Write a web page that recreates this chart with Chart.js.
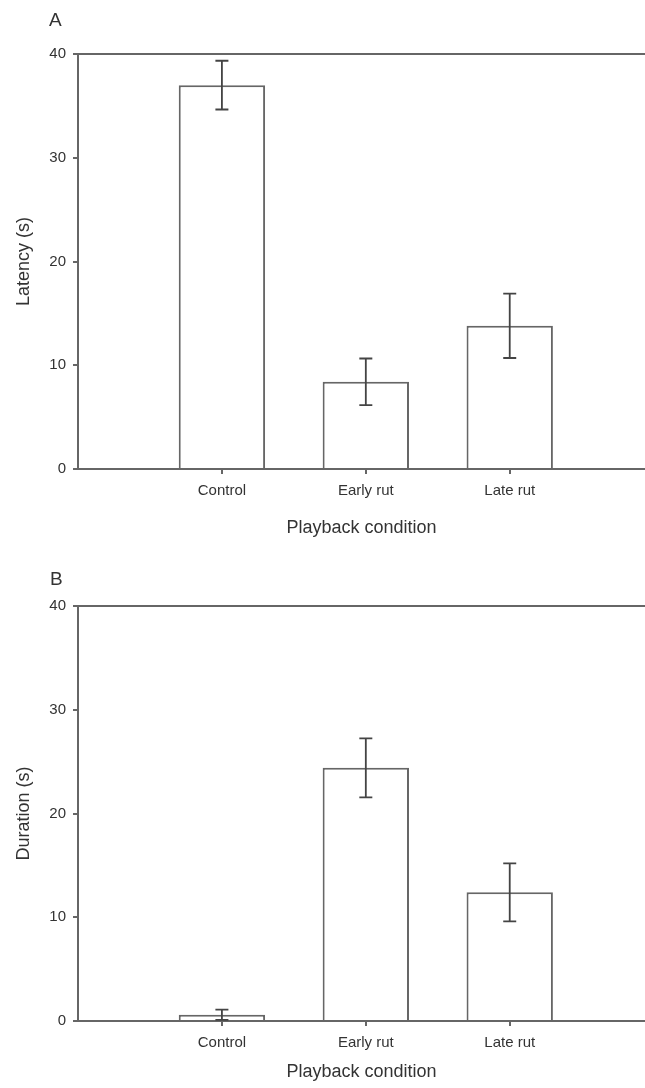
<!DOCTYPE html>
<html>
<head>
<meta charset="utf-8">
<script src="https://cdn.jsdelivr.net/npm/chart.js@4/dist/chart.umd.min.js"></script>
<style>
  body { margin: 0; background: #fff; }
  .panel { position: absolute; left: 0; width: 645px; height: 544px; }
  .letter { position: absolute; font-family: "Liberation Sans", Arial, sans-serif; font-size: 19px; color: #333; }
</style>
</head>
<body>
<div class="panel" style="top:0"><canvas id="chartA" width="645" height="544"></canvas></div>
<div class="panel" style="top:544px"><canvas id="chartB" width="645" height="544"></canvas></div>
<div class="letter" style="left:49px; top:9px">A</div>
<div class="letter" style="left:50px; top:568px">B</div>
<script>
// data
var categories = ['Control', 'Early rut', 'Late rut'];
var latency = [37.0, 8.4, 13.8];
var latencyErr = [2.35, 2.25, 3.1];
var duration = [0.6, 24.4, 12.4];
var durationErr = [0.5, 2.85, 2.8];
var yTicks = [0, 10, 20, 30, 40];

var FONT = '"Liberation Sans", Arial, sans-serif';
var LINE = '#666';
var TEXT = '#333';

// Draw the error bars on top of the bars
var errorBars = {
    id: 'errorBars',
    afterDatasetsDraw: function(chart) {
        var ctx = chart.ctx;
        var xs = chart.scales.x, ys = chart.scales.y;
        chart.data.datasets.forEach(function(ds) {
            ds.data.forEach(function(pt, i) {
                var e = ds.errors[i];
                var x = xs.getPixelForValue(pt.x);
                var top = ys.getPixelForValue(pt.y + e);
                var bot = ys.getPixelForValue(pt.y - e);
                ctx.save();
                ctx.strokeStyle = '#444';
                ctx.lineWidth = 1.8;
                ctx.beginPath();
                ctx.moveTo(x, top); ctx.lineTo(x, bot);
                ctx.moveTo(x - 6.5, top); ctx.lineTo(x + 6.5, top);
                ctx.moveTo(x - 6.5, bot); ctx.lineTo(x + 6.5, bot);
                ctx.stroke();
                ctx.restore();
            });
        });
    }
};

function makeChart(id, values, errs, yTitle, topPad, xHeight) {
    var ctx = document.getElementById(id).getContext('2d');
    return new Chart(ctx, {
        type: 'bar',
        data: {
            datasets: [{
                data: categories.map(function(c, i) { return { x: i + 1, y: values[i] }; }),
                errors: errs,
                backgroundColor: '#fff',
                borderColor: LINE,
                borderWidth: 2,
                barPercentage: 0.6,
                categoryPercentage: 1
            }]
        },
        options: {
            responsive: false,
            animation: false,
            layout: { padding: { top: topPad, right: 0, left: 0, bottom: 0 } },
            plugins: { legend: { display: false }, tooltip: { enabled: false } },
            scales: {
                x: {
                    type: 'linear',
                    min: 0,
                    max: 3.94,
                    offset: false,
                    afterFit: function(s) { s.height = xHeight; },
                    afterBuildTicks: function(s) {
                        s.ticks = categories.map(function(c, i) { return { value: i + 1 }; });
                    },
                    ticks: {
                        callback: function(v) { return categories[v - 1]; },
                        font: { family: FONT, size: 15 },
                        color: TEXT,
                        padding: 8,
                        maxRotation: 0
                    },
                    grid: { offset: false, drawOnChartArea: false, tickLength: 5, tickColor: LINE, lineWidth: 2 },
                    border: { display: true, color: LINE, width: 2 },
                    title: {
                        display: true,
                        text: 'Playback condition',
                        font: { family: FONT, size: 18, lineHeight: 1 },
                        color: TEXT,
                        padding: { top: 0, bottom: 7 }
                    }
                },
                y: {
                    min: 0,
                    max: 40,
                    afterFit: function(s) { s.width = 78; },
                    afterBuildTicks: function(s) {
                        s.ticks = yTicks.map(function(v) { return { value: v }; });
                    },
                    ticks: {
                        font: { family: FONT, size: 15 },
                        color: TEXT,
                        padding: 7
                    },
                    grid: {
                        color: function(c) { return c.tick && c.tick.value === 40 ? LINE : 'rgba(0,0,0,0)'; },
                        tickColor: LINE,
                        tickLength: 5,
                        lineWidth: 2
                    },
                    border: { display: true, color: LINE, width: 2 },
                    title: {
                        display: true,
                        text: yTitle,
                        font: { family: FONT, size: 18, lineHeight: 1 },
                        color: TEXT,
                        padding: { top: 15, bottom: 0 }
                    }
                }
            }
        },
        plugins: [errorBars]
    });
}

makeChart('chartA', latency, latencyErr, 'Latency (s)', 54, 75);
makeChart('chartB', duration, durationErr, 'Duration (s)', 62, 67);
</script>
</body>
</html>
